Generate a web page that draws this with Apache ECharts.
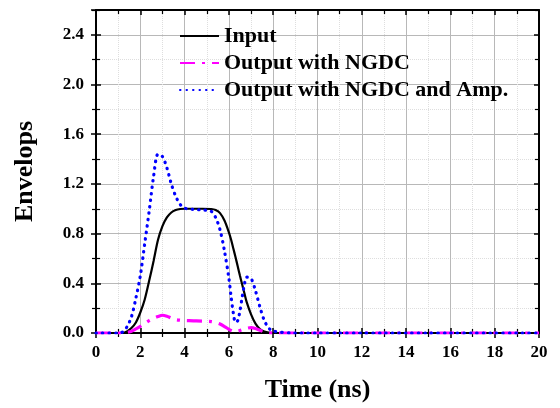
<!DOCTYPE html>
<html>
<head>
<meta charset="utf-8">
<script src="https://cdn.jsdelivr.net/npm/echarts@6/dist/echarts.min.js"></script>
<style>
  html, body { margin: 0; padding: 0; background: #fff; }
  #chart { width: 560px; height: 408px; }
</style>
</head>
<body>
<div id="chart"></div>
<script>
// Sampling instants (ns)
var time = [0, 1.0, 1.2, 1.4, 1.6, 1.8, 2.0, 2.2, 2.4, 2.6, 2.8, 3.0, 3.2, 3.4, 3.6, 3.8,
  4.0, 4.4, 4.8, 5.2, 5.4, 5.6, 5.8, 6.0, 6.1, 6.2, 6.3, 6.4, 6.5, 6.6, 6.7, 6.8,
  7.0, 7.2, 7.4, 7.6, 7.8, 8.0, 9, 10, 11, 12, 13, 14, 15, 16, 17, 18, 19, 20];

// Input pulse envelope
var inputEnv = [0, 0, 0, 0.012, 0.04, 0.085, 0.165, 0.27, 0.42, 0.58, 0.75, 0.86, 0.93, 0.97, 0.99, 0.998,
  1.0, 1.0, 1.0, 0.998, 0.99, 0.965, 0.905, 0.81, 0.75, 0.68, 0.61, 0.535, 0.46, 0.39, 0.32, 0.25,
  0.15, 0.075, 0.032, 0.012, 0.003, 0, 0, 0, 0, 0, 0, 0, 0, 0, 0, 0, 0, 0];

// Output envelope after the NGDC
var ngdcEnv = [0, 0, 0, 0.005, 0.014, 0.033, 0.053, 0.076, 0.1, 0.118, 0.133, 0.143, 0.135, 0.12, 0.108, 0.103,
  0.1, 0.098, 0.096, 0.092, 0.085, 0.072, 0.052, 0.03, 0.02, 0.013, 0.01, 0.014, 0.02, 0.027, 0.033, 0.038,
  0.043, 0.036, 0.022, 0.008, 0.002, 0, 0, 0, 0, 0, 0, 0, 0, 0, 0, 0, 0, 0];

// Output envelope after the NGDC and amplifier
var ngdcAmpEnv = [0, 0, 0.008, 0.05, 0.13, 0.28, 0.46, 0.72, 0.98, 1.26, 1.44, 1.42, 1.33, 1.2, 1.1, 1.035,
  1.005, 0.995, 0.99, 0.98, 0.93, 0.83, 0.66, 0.44, 0.29, 0.16, 0.085, 0.1, 0.18, 0.29, 0.39, 0.45,
  0.44, 0.34, 0.21, 0.1, 0.04, 0.015, 0, 0, 0, 0, 0, 0, 0, 0, 0, 0, 0, 0];

var seriesNames = ['Input', 'Output with NGDC', 'Output with NGDC and Amp.'];
var xTitle = 'Time (ns)';
var yTitle = 'Envelops';

function pairs(vals) {
  return time.map(function (t, i) { return [t, vals[i]]; });
}

var FONT = "'Liberation Serif', 'Times New Roman', serif";
var X = { min: 0, max: 20, interval: 2 };
var Y = { min: 0, max: 2.6, interval: 0.4 };

function tickAxis(base, pos, inside, withLine) {
  return Object.assign({
    type: 'value', position: pos,
    axisLine: { show: withLine, onZero: false, lineStyle: { color: '#000', width: 2 } },
    axisTick: { show: true, inside: inside, length: 5, lineStyle: { color: '#000', width: 1.5 } },
    minorTick: { show: true, splitNumber: 2, length: 4, lineStyle: { color: '#000', width: 1.2 } },
    axisLabel: { show: false },
    splitLine: { show: false },
    minorSplitLine: { show: false }
  }, base);
}

var chart = echarts.init(document.getElementById('chart'), null, { renderer: 'canvas' });
chart.setOption({
  animation: false,
  backgroundColor: '#fff',
  grid: { left: 96, right: 21, top: 10, bottom: 74, containLabel: false },
  legend: {
    orient: 'vertical', left: 179, top: 25, padding: 0,
    itemWidth: 39, itemHeight: 14, itemGap: 5,
    data: seriesNames,
    itemStyle: { opacity: 0 },
    textStyle: { fontFamily: FONT, fontWeight: 'bold', fontSize: 22, color: '#000', lineHeight: 22 }
  },
  xAxis: [
    Object.assign(tickAxis(X, 'bottom', false, true), {
      name: xTitle, nameLocation: 'middle', nameGap: 44,
      nameTextStyle: { fontFamily: FONT, fontWeight: 'bold', fontSize: 26, color: '#000' },
      axisLabel: { show: true, margin: 11, fontFamily: FONT, fontWeight: 'bold', fontSize: 17, color: '#000' },
      splitLine: { show: true, lineStyle: { color: '#b8b8b8', width: 1 } },
      minorSplitLine: { show: true, lineStyle: { color: '#dedede', width: 1, type: 'dotted' } }
    }),
    tickAxis(X, 'bottom', true, false),
    tickAxis(X, 'top', true, true)
  ],
  yAxis: [
    Object.assign(tickAxis(Y, 'left', false, true), {
      name: yTitle, nameLocation: 'middle', nameGap: 58, nameRotate: 90,
      nameTextStyle: { fontFamily: FONT, fontWeight: 'bold', fontSize: 26, color: '#000' },
      axisLabel: {
        show: true, margin: 12, fontFamily: FONT, fontWeight: 'bold', fontSize: 17, color: '#000',
        formatter: function (v) { return v > 2.5 ? '' : v.toFixed(1); }
      },
      splitLine: { show: true, lineStyle: { color: '#b8b8b8', width: 1 } },
      minorSplitLine: { show: true, lineStyle: { color: '#dedede', width: 1, type: 'dotted' } }
    }),
    tickAxis(Y, 'left', true, false),
    tickAxis(Y, 'right', true, true)
  ],
  series: [
    {
      name: seriesNames[0], type: 'line', data: pairs(inputEnv),
      showSymbol: false, symbol: 'none', smooth: 0.3, z: 3,
      lineStyle: { color: '#000', width: 2.2 },
      itemStyle: { color: '#000' }
    },
    {
      name: seriesNames[1], type: 'line', data: pairs(ngdcEnv),
      showSymbol: false, symbol: 'none', smooth: 0.3, z: 4,
      lineStyle: { color: '#ff00ff', width: 3.2, type: [15, 7, 3, 7] },
      itemStyle: { color: '#ff00ff' }
    },
    {
      name: seriesNames[2], type: 'line', data: pairs(ngdcAmpEnv),
      showSymbol: false, symbol: 'none', smooth: 0.3, z: 5,
      lineStyle: { color: '#0000ff', width: 3.2, type: [0.5, 6], cap: 'round' },
      itemStyle: { color: '#0000ff' }
    }
  ]
});
</script>
</body>
</html>
